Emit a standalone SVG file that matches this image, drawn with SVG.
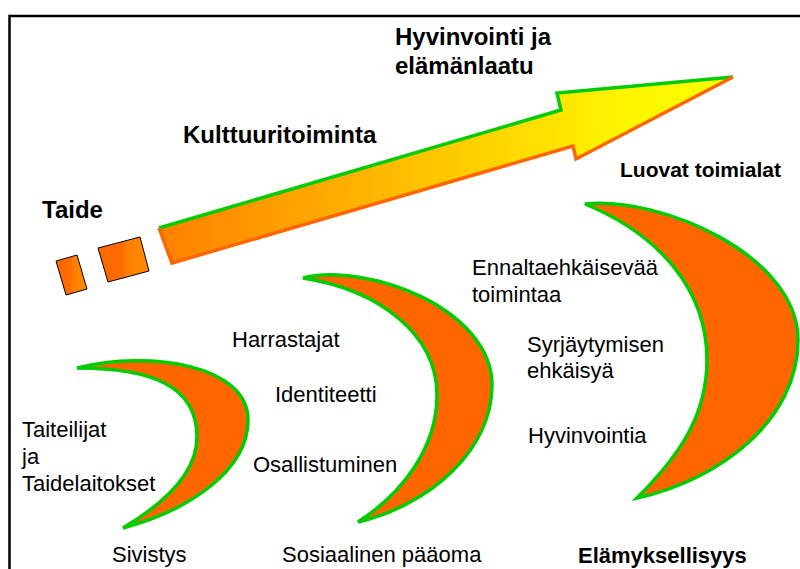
<svg xmlns="http://www.w3.org/2000/svg" width="800" height="569" viewBox="0 0 800 569">
<defs>
<linearGradient id="arrowGrad" gradientUnits="userSpaceOnUse" x1="160" y1="0" x2="735" y2="0">
<stop offset="0" stop-color="#FF8000"/>
<stop offset="0.55" stop-color="#FFD000"/>
<stop offset="0.8" stop-color="#FFF500"/>
<stop offset="1" stop-color="#FFFF00"/>
</linearGradient>
<linearGradient id="boxGrad" x1="0" y1="0" x2="1" y2="0">
<stop offset="0" stop-color="#FF6600"/>
<stop offset="0.5" stop-color="#FF6E00"/>
<stop offset="0.55" stop-color="#FF8000"/>
<stop offset="1" stop-color="#FF8A00"/>
</linearGradient>
</defs>
<style>
.frame{fill:none;stroke:#000;stroke-width:2.5}
.moon{fill:#FF6600;stroke:#00CC00;stroke-width:3.5;stroke-linejoin:miter}
.box{fill:url(#boxGrad);stroke:#000;stroke-width:1}
.t{font-family:"Liberation Sans",Arial,sans-serif;font-size:22px;fill:#000}
.b{font-family:"Liberation Sans",Arial,sans-serif;font-weight:bold;fill:#000}
</style>
<path class="frame" d="M9.5,600 V16 H810"/>
<g id="arrow">
<path d="M159,228 L561,110 L557,93 L733,77 L576,159 L573,146 L172,263 Z" fill="url(#arrowGrad)"/>
<polyline points="159,228 561,110 557,93 733,77" fill="none" stroke="#00CC00" stroke-width="3.5" stroke-linejoin="miter"/>
<polyline points="733,77 576,159 573,146 172,263 159,228" fill="none" stroke="#FF6600" stroke-width="3.5" stroke-linejoin="miter"/>
</g>
<g id="box1"><polygon class="box" points="56,261 77,255 87,289 66,295"/></g>
<g id="box2"><polygon class="box" points="98,248 140,237 149,271 108,282"/></g>
<g id="crescent1"><path class="moon" d="M77,368 C150,350 248,365 248,420 C248,470 190,510 123,528 C170,500 197,470 197,437 C197,385 150,368 77,368 Z"/></g>
<g id="crescent2"><path class="moon" d="M303,278 C370,262 492,310 492,385 C492,450 430,505 358,522 C400,495 437,450 437,395 C437,335 380,290 303,278 Z"/></g>
<g id="crescent3"><path class="moon" d="M585,204 C660,196 798,255 798,340 C798,420 720,480 637,498 C680,455 707,415 707,360 C707,290 660,235 585,204 Z"/></g>
<g id="labels">
<text class="b" x="395" y="45" font-size="24">Hyvinvointi ja</text>
<text class="b" x="395" y="74" font-size="24">elämänlaatu</text>
<text class="b" x="183" y="143" font-size="24">Kulttuuritoiminta</text>
<text class="b" x="42" y="218" font-size="24">Taide</text>
<text class="b" x="620" y="177" font-size="21">Luovat toimialat</text>
<text class="t" x="22" y="437">Taiteilijat</text>
<text class="t" x="22" y="464">ja</text>
<text class="t" x="22" y="491">Taidelaitokset</text>
<text class="t" x="232" y="347">Harrastajat</text>
<text class="t" x="275" y="402">Identiteetti</text>
<text class="t" x="253" y="472">Osallistuminen</text>
<text class="t" x="472" y="275">Ennaltaehkäisevää</text>
<text class="t" x="472" y="302">toimintaa</text>
<text class="t" x="527" y="352">Syrjäytymisen</text>
<text class="t" x="527" y="378">ehkäisyä</text>
<text class="t" x="528" y="443">Hyvinvointia</text>
<text class="t" x="112" y="562">Sivistys</text>
<text class="t" x="282" y="562">Sosiaalinen pääoma</text>
<text class="b" x="578" y="563" font-size="22">Elämyksellisyys</text>
</g>
</svg>
